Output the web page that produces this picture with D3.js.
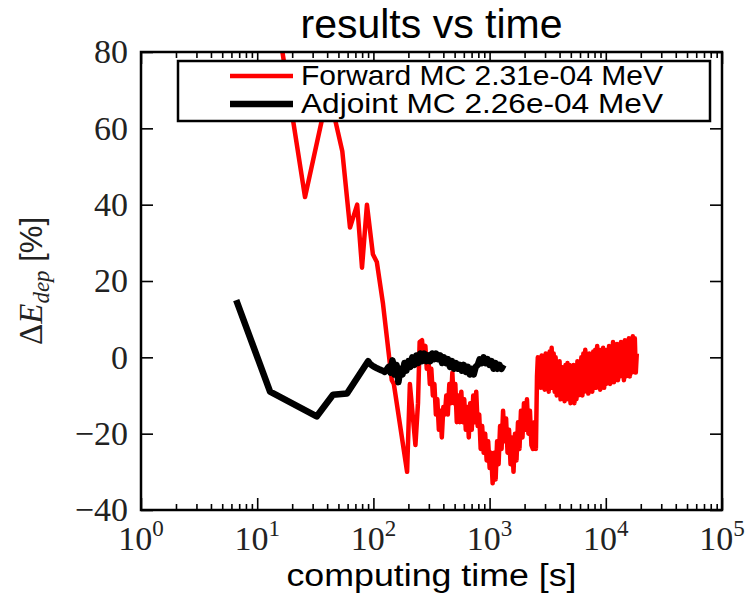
<!DOCTYPE html>
<html>
<head>
<meta charset="utf-8">
<script src="https://cdn.jsdelivr.net/npm/d3@7"></script>
<style>
  body { margin: 0; background: #fff; }
  svg { display: block; }
</style>
</head>
<body>
<div id="graph"></div>
<script>
// Forward MC (red) -- computing time [s] and relative deviation [%]
var forwardTime = [15, 25.8, 41, 54, 62.9, 72.5, 79.8, 88, 99, 107, 121, 144, 150, 195, 206, 230, 242, 250,
    262, 270,
    280, 288, 297, 306, 315, 325, 335, 345, 355, 366, 377, 388, 400, 412, 424, 437, 450, 464, 478, 492,
    507, 522, 538, 554, 571, 588, 605, 624, 642, 662, 681, 702, 723, 745, 767, 790, 814, 838, 863, 889,
    916, 943, 972, 1001, 1031, 1062, 1094, 1127, 1160, 1195, 1231, 1268, 1306, 1345, 1386, 1427, 1470,
    1514, 1560, 1606, 1655, 1704, 1755, 1808, 1862, 1918, 1976, 2035, 2096, 2159, 2224, 2290, 2359, 2430,
    2503, 2558,
    2600, 2650, 2700, 2760, 2810, 2870, 2920, 2980, 3040, 3100, 3160, 3230, 3290, 3360, 3420, 3490,
    3560, 3630, 3700, 3780, 3850, 3930, 4000, 4080, 4160, 4250, 4330, 4420, 4500, 4590, 4680, 4780,
    4870, 4970, 5060, 5160, 5270, 5370, 5480, 5590, 5700, 5810, 5920, 6040, 6160, 6290, 6410, 6540,
    6660, 6800, 6930, 7070, 7210, 7360, 7500, 7650, 7800, 7960, 8110, 8270, 8430, 8600, 8770, 8950,
    9120, 9310, 9490, 9680, 9870, 10070, 10260, 10470, 10670, 10890, 11100, 11320, 11540, 11770, 12000, 12240,
    12480, 12730, 12980, 13240, 13500, 13770, 14040, 14320, 14600, 14890, 15190, 15490, 15800, 16110, 16430, 16760,
    17080, 17420, 17770, 18120, 18480];
var forwardValue = [88, 42, 70, 54, 34, 40, 23.5, 40, 27, 25, 14, -6, -7, -30, -7, -23, -12, 4,
    4.5, 0,
    3, -3, 0, -7, -3, -10, -7, -15, -11, -19, -14, -21, -13, -15, -10, -15, -7, -12, -4, -12,
    -7, -17, -10, -17, -9, -17, -11, -19, -13, -21, -12, -19, -10, -17, -9, -18, -15, -24, -18, -25,
    -20, -27, -22, -29, -25, -33, -25, -32, -22, -28, -18, -24, -14, -22, -16, -25, -19,
    -28, -21, -30, -20, -27, -17, -24, -14, -21, -12, -19, -11, -20, -14, -23, -24, -17,
    -24, -5,
    0, -7, -1, -8, 0.5, -7, -2, -8.5, 1, -6, 0, -9, 1.5, -7, 2.5, -8,
    1, -9, 0, -10, -2, -9, -1, -11, -2.5, -10, -3, -11.5, -2, -10, -1.5, -11,
    -2, -12, -3, -11, -2, -12, -2.5, -11, -1, -10, -1.5, -9, 0, -10, 1, -9,
    2, -8, 0.5, -9.5, 1, -8, 0, -9, 1.5, -7.5, 2, -8, 3, -7, 2, -8.5,
    1, -7, 2.5, -8, 1.5, -7, 2, -6, 3, -7, 2.5, -5.5, 4, -6.5, 3, -5,
    3.5, -6, 2.5, -5, 4, -4.5, 3.5, -6, 4.5, -5, 3, -4, 5, -5, 4, -4,
    5.5, -3.5, 5, -4, 1];

// Adjoint MC (black)
var adjointTime = [6.6, 12.9, 32.5, 44.9, 59.3,
    90, 94, 98, 102, 106, 110, 115, 120, 125, 130, 135, 140, 146, 152, 158, 164, 171, 178, 185, 192,
    200, 208, 216, 225, 234, 243, 253, 263, 274, 285, 296, 308, 320, 333, 346, 360, 375, 390, 405, 421,
    438, 456, 474, 493, 513, 533, 555, 577, 600, 624, 649, 675, 702, 730, 759, 790, 821, 854, 888, 924,
    961, 999, 1039, 1081, 1124, 1169, 1216, 1264, 1320];
var adjointValue = [15, -9, -15.5, -9.8, -9.5,
    -1, -1.8, -2.2, -2.5, -2.8, -3, -3.3, -3.5, -3.8, -3.2, -2.5, -4, -0.8, -4.5, -2, -6.5, -3, -4.5, -1.5, -3.5,
    -1, -2.5, 0, -2, 0.5, -1.5, 1, -1, 1, -1, 0.5, -1, 1, -0.5, 1, -0.5, 0.5, -1.5, 0, -1.5,
    -0.5, -2.5, -1, -3, -1.5, -3, -2, -3.5, -2, -3.8, -2.5, -4.5, -3, -4.5, -2.5, -2, -0.5, -1.5, 0, -1.5,
    -0.5, -2, -1, -3, -1.5, -3, -2, -3, -2];

var seriesLabels = ["Forward MC 2.31e-04 MeV", "Adjoint MC 2.26e-04 MeV"];
var seriesColors = ["#ff0000", "#000000"];
var yTicks = [-40, -20, 0, 20, 40, 60, 80];
var xDecades = [0, 1, 2, 3, 4, 5];

var W = 747, H = 593;
var margin = {top: 52, right: 25, bottom: 83, left: 141};
var width = W - margin.left - margin.right;
var height = H - margin.top - margin.bottom;

var x = d3.scaleLog().domain([1, 1e5]).range([0, width]);
var y = d3.scaleLinear().domain([-40, 80]).range([height, 0]);

var svg = d3.select("#graph").append("svg")
    .attr("width", W)
    .attr("height", H);

var g = svg.append("g")
    .attr("transform", "translate(" + margin.left + "," + margin.top + ")");

g.append("clipPath").attr("id", "clip")
    .append("rect").attr("width", width).attr("height", height);

var majorX = xDecades.map(function(d) { return Math.pow(10, d); });
var minorX = [];
xDecades.slice(0, -1).forEach(function(d) {
    for (var k = 2; k < 10; k++) minorX.push(k * Math.pow(10, d));
});

// inward ticks on all four sides
function tickAxis(axis, tr, size) {
    var a = g.append("g").attr("transform", tr).call(axis.tickSize(-size).tickFormat(""));
    a.select(".domain").remove();
    a.selectAll("line").attr("stroke", "#000").attr("stroke-width", 1.6);
}
tickAxis(d3.axisBottom(x).tickValues(majorX), "translate(0," + height + ")", 12);
tickAxis(d3.axisBottom(x).tickValues(minorX), "translate(0," + height + ")", 6);
tickAxis(d3.axisTop(x).tickValues(majorX), "translate(0,0)", 12);
tickAxis(d3.axisTop(x).tickValues(minorX), "translate(0,0)", 6);
tickAxis(d3.axisLeft(y).tickValues(yTicks), "translate(0,0)", 12);
tickAxis(d3.axisRight(y).tickValues(yTicks), "translate(" + width + ",0)", 12);

// lines
var line = d3.line()
    .x(function(d) { return x(d[0]); })
    .y(function(d) { return y(d[1]); })
    .curve(d3.curveLinear);

var lines = g.append("g").attr("clip-path", "url(#clip)");
lines.append("path")
    .attr("d", line(d3.zip(forwardTime, forwardValue)))
    .attr("fill", "none")
    .attr("stroke", seriesColors[0])
    .attr("stroke-width", 4.5)
    .attr("stroke-linejoin", "round");
lines.append("path")
    .attr("d", line(d3.zip(adjointTime, adjointValue)))
    .attr("fill", "none")
    .attr("stroke", seriesColors[1])
    .attr("stroke-width", 6.5)
    .attr("stroke-linejoin", "round");

// frame
g.append("rect")
    .attr("width", width)
    .attr("height", height)
    .attr("fill", "none")
    .attr("stroke", "#000")
    .attr("stroke-width", 2.5);

// y tick labels
var yLab = g.append("g")
    .call(d3.axisLeft(y).tickValues(yTicks).tickSize(0).tickPadding(13));
yLab.select(".domain").remove();
yLab.selectAll("text")
    .attr("font-family", "'Liberation Serif', serif")
    .attr("font-size", 34)
    .attr("fill", "#222");

// x tick labels 10^n
var xl = g.append("g").selectAll("text").data(xDecades).enter().append("text")
    .attr("x", function(d) { return x(Math.pow(10, d)); })
    .attr("y", height + 40)
    .attr("text-anchor", "middle")
    .attr("font-family", "'Liberation Serif', serif")
    .attr("font-size", 34)
    .attr("fill", "#222");
xl.append("tspan").text("10");
xl.append("tspan").attr("dy", -14).attr("font-size", 23)
    .text(function(d) { return d; });

// title and axis labels
svg.append("text")
    .attr("x", margin.left + width / 2)
    .attr("y", 38)
    .attr("text-anchor", "middle")
    .attr("font-family", "'Liberation Sans', Arial, sans-serif")
    .attr("font-size", 41)
    .text("results vs time");

svg.append("text")
    .attr("x", margin.left + width / 2)
    .attr("y", 586)
    .attr("text-anchor", "middle")
    .attr("font-family", "'Liberation Sans', Arial, sans-serif")
    .attr("font-size", 31)
    .attr("textLength", 290)
    .attr("lengthAdjust", "spacingAndGlyphs")
    .text("computing time [s]");

var ylabel = svg.append("text")
    .attr("transform", "translate(42," + (margin.top + height / 2) + ") rotate(-90)")
    .attr("text-anchor", "middle")
    .attr("font-family", "'Liberation Serif', serif")
    .attr("font-size", 33)
    .attr("fill", "#222");
ylabel.append("tspan").text("\u0394");
ylabel.append("tspan").attr("font-style", "italic").text("E");
ylabel.append("tspan").attr("font-style", "italic").attr("font-size", 23).attr("dy", 7).text("dep");
ylabel.append("tspan").attr("dy", -7).attr("font-family", "'Liberation Sans', Arial, sans-serif")
    .attr("font-size", 31).text(" [%]");

// legend
var lg = svg.append("g");
lg.append("rect")
    .attr("x", 178).attr("y", 61)
    .attr("width", 532).attr("height", 60)
    .attr("fill", "#fff")
    .attr("stroke", "#000")
    .attr("stroke-width", 2.5);
seriesLabels.forEach(function(s, i) {
    var yy = 76 + i * 28;
    lg.append("line")
        .attr("x1", 230).attr("x2", 293)
        .attr("y1", yy).attr("y2", yy)
        .attr("stroke", seriesColors[i])
        .attr("stroke-width", i === 0 ? 4.5 : 6.5);
    lg.append("text")
        .attr("x", 301).attr("y", yy + 9)
        .attr("font-family", "'Liberation Sans', Arial, sans-serif")
        .attr("font-size", 28)
        .attr("textLength", 362)
        .attr("lengthAdjust", "spacingAndGlyphs")
        .text(s);
});
</script>
</body>
</html>
